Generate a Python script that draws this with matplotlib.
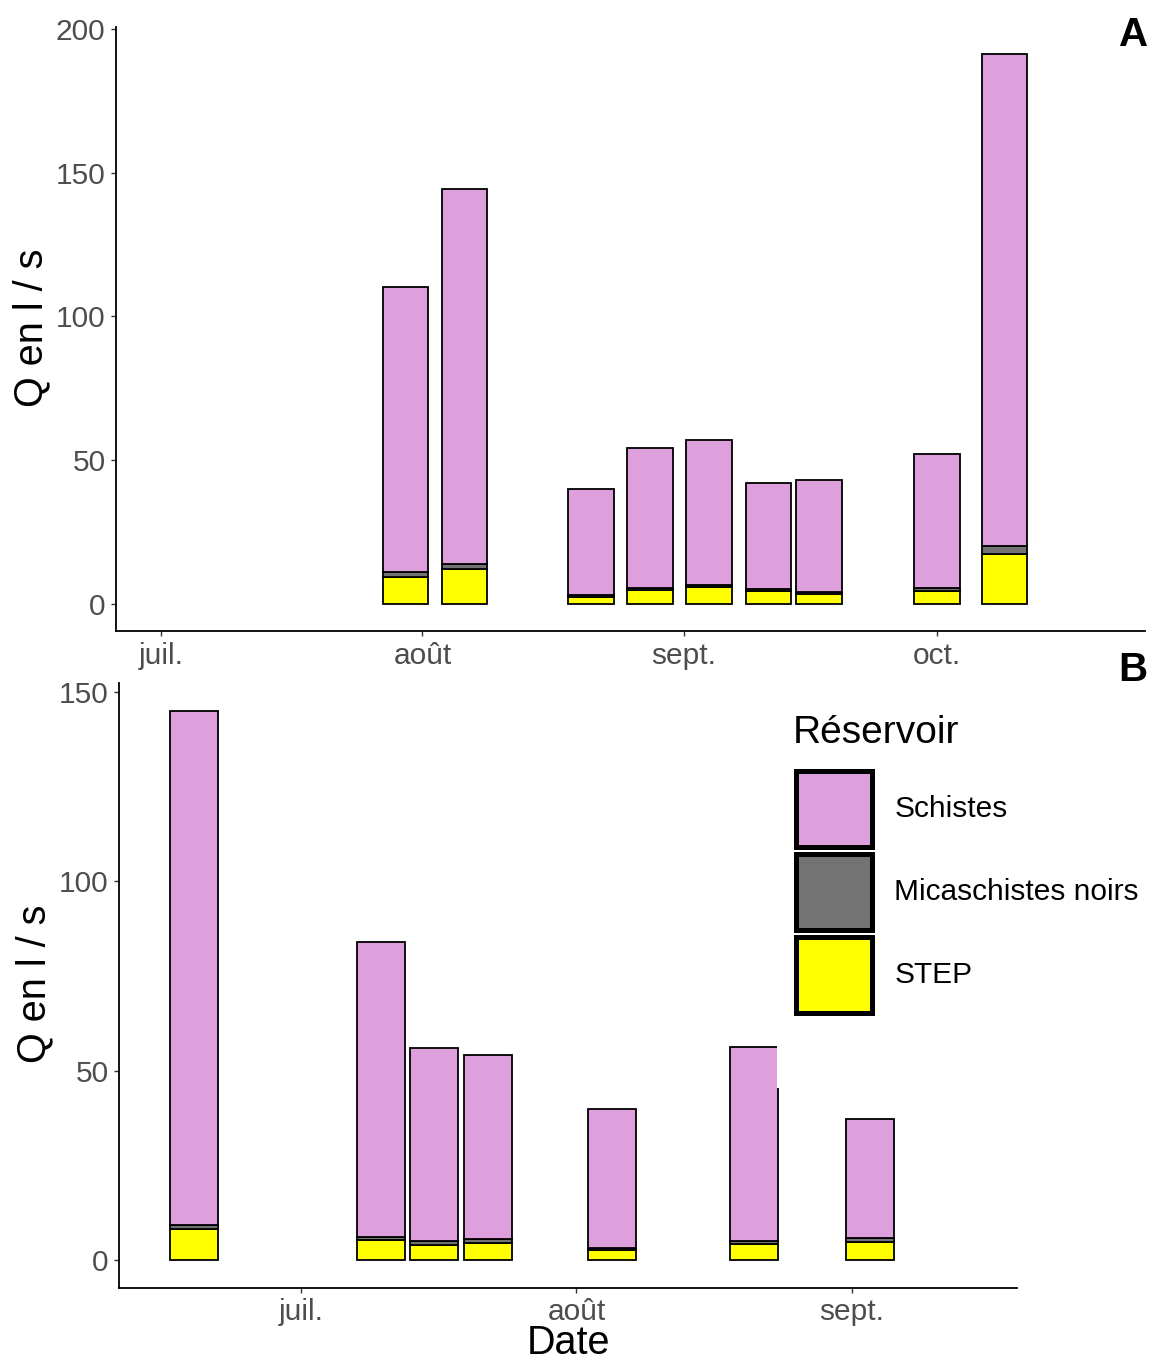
import matplotlib
matplotlib.use("Agg")
import matplotlib.pyplot as plt
import matplotlib.dates as mdates
from matplotlib.patches import Patch, Rectangle
from datetime import datetime

plt.rcParams['font.family'] = ['Liberation Sans', 'DejaVu Sans']

# ---------------- data ----------------
reservoirs = ["Schistes", "Micaschistes noirs", "STEP"]
colors = {"Schistes": "#DDA0DD", "Micaschistes noirs": "#737373", "STEP": "#FFFF00"}

# Panel A
dates_a = ["2019-07-30", "2019-08-06", "2019-08-21", "2019-08-28", "2019-09-04",
           "2019-09-11", "2019-09-17", "2019-10-01", "2019-10-09"]
step_a = [9.4, 12.1, 2.4, 4.6, 5.9, 4.5, 3.5, 4.4, 17.4]
mica_a = [1.7, 1.5, 0.7, 0.7, 0.7, 0.5, 0.4, 0.9, 2.8]
schistes_a = [99.2, 130.7, 36.9, 49.0, 50.4, 37.1, 39.2, 46.9, 171.1]
ticks_a = ["2019-07-01", "2019-08-01", "2019-09-01", "2019-10-01"]
ticklabels_a = ["juil.", "août", "sept.", "oct."]
yticks_a = [0, 50, 100, 150, 200]

# Panel B
dates_b = ["2019-06-19", "2019-07-10", "2019-07-16", "2019-07-22", "2019-08-05",
           "2019-08-21", "2019-09-03"]
step_b = [8.2, 5.3, 4.1, 4.6, 2.6, 4.2, 4.8]
mica_b = [1.1, 0.9, 0.8, 0.9, 0.6, 0.9, 0.9]
schistes_b = [135.7, 77.8, 51.1, 48.6, 36.7, 51.1, 31.5]
ticks_b = ["2019-07-01", "2019-08-01", "2019-09-01"]
ticklabels_b = ["juil.", "août", "sept."]
yticks_b = [0, 50, 100, 150]

# ---------------- figure ----------------
W, H = 1152, 1363
fig = plt.figure(figsize=(W / 100, H / 100), dpi=100)


def fx(px):
    return px / W


def fy(py):
    return 1 - py / H


BAR_W = 5.4
EDGE_LW = 1.3
TICK_COLOR = "#4D4D4D"


def to_num(ds):
    return [mdates.date2num(datetime.strptime(d, "%Y-%m-%d")) for d in ds]


def draw_panel(ax, dates, step, mica, schistes, ticks, ticklabels, yticks, xlim_days, ylim):
    x = to_num(dates)
    bottom = [0.0] * len(x)
    for name, vals in [("STEP", step), ("Micaschistes noirs", mica), ("Schistes", schistes)]:
        ax.bar(x, vals, width=BAR_W, bottom=bottom, color=colors[name],
               edgecolor="black", linewidth=EDGE_LW, align="center")
        bottom = [b + v for b, v in zip(bottom, vals)]
    ref = mdates.date2num(datetime(2019, 7, 1))
    ax.set_xlim(ref + xlim_days[0], ref + xlim_days[1])
    ax.set_ylim(*ylim)
    ax.set_xticks(to_num(ticks))
    ax.set_xticklabels(ticklabels)
    ax.set_yticks(yticks)
    for s in ["top", "right"]:
        ax.spines[s].set_visible(False)
    for s in ["left", "bottom"]:
        ax.spines[s].set_linewidth(1.3)
        ax.spines[s].set_color("black")
    ax.tick_params(axis="both", labelsize=21.5, labelcolor=TICK_COLOR, color="#333333",
                   length=3.6, width=1.0, pad=4)


ax_a = fig.add_axes([fx(116), fy(631), fx(1145) - fx(116), fy(27.4) - fy(631)])
draw_panel(ax_a, dates_a, step_a, mica_a, schistes_a, ticks_a, ticklabels_a, yticks_a,
           (-5.33, 116.66), (-9.55, 200.55))

ax_b = fig.add_axes([fx(119), fy(1287.5), fx(1017) - fx(119), fy(683.4) - fy(1287.5)])
draw_panel(ax_b, dates_b, step_b, mica_b, schistes_b, ticks_b, ticklabels_b, yticks_b,
           (-20.48, 80.57), (-7.25, 152.25))

# axis titles
fig.text(fx(31), fy(328), "Q en l / s", rotation=90, ha="center", va="center", fontsize=28.5)
fig.text(fx(34), fy(984), "Q en l / s", rotation=90, ha="center", va="center", fontsize=28.5)
fig.text(fx(568), fy(1354), "Date", ha="center", va="baseline", fontsize=28.5)

# panel tags
fig.text(fx(1148), fy(46), "A", ha="right", va="baseline", fontsize=29, fontweight="bold")
fig.text(fx(1147), fy(681), "B", ha="right", va="baseline", fontsize=29, fontweight="bold")

# legend background (covers part of panel B like the reference)
fig.add_artist(Rectangle((fx(777), fy(1088)), fx(1152) - fx(777), fy(690) - fy(1088),
                         transform=fig.transFigure, facecolor="white", edgecolor="none",
                         zorder=1))

# legend title
fig.text(fx(793), fy(743), "Réservoir", ha="left", va="baseline", fontsize=28, zorder=6)

handles = [Patch(facecolor=colors[r], edgecolor="black", linewidth=3.6) for r in reservoirs]
leg = fig.legend(handles, reservoirs, loc="upper left",
                 bbox_to_anchor=(fx(796), fy(770.5)), frameon=False, fontsize=21.5,
                 handlelength=2.54, handleheight=3.54,
                 labelspacing=0.235, handletextpad=0.75, borderpad=0, borderaxespad=0)
leg.set_zorder(5)

fig.savefig("out.png", dpi=100)
